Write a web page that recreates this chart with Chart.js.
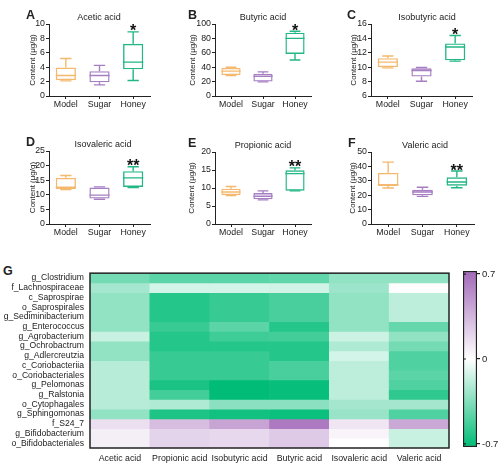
<!DOCTYPE html>
<html>
<head>
<meta charset="utf-8">
<script src="https://cdn.jsdelivr.net/npm/chart.js@4/dist/chart.umd.min.js"></script>
<style>
  body { margin: 0; width: 500px; height: 466px; background: #fff; position: relative; overflow: hidden;
         font-family: "Liberation Sans", Arial, sans-serif; color: #222; }
  canvas, .lbl { position: absolute; }
  .letter { font-weight: bold; font-size: 12.5px; line-height: 14px; }
  .title { font-size: 9px; line-height: 12px; transform: translateX(-50%); white-space: nowrap; }
</style>
</head>
<body>
<script>
"use strict";

// box plot groups
const groups = ["Model", "Sugar", "Honey"];
const groupColors = ["#F4B96E", "#A67EC2", "#22B784"];

// [min, q1, median, q3, max] for Model, Sugar, Honey
const acetic = [[2.1, 2.2, 2.85, 3.95, 5.2], [1.55, 1.9, 2.85, 3.45, 4.25], [2.15, 3.7, 4.7, 7.25, 8.9]];
const butyric = [[28.5, 29, 34.5, 39, 40], [19.6, 20, 27.5, 31, 33.5], [50, 58.5, 80, 88, 90]];
const isobutyric = [[9.9, 10, 10.7, 11.25, 11.55], [8.05, 8.7, 9.55, 9.85, 9.95], [10.85, 10.95, 12.8, 13.3, 14.4]];
const isovaleric = [[11.8, 12.0, 12.6, 15.8, 16.6], [8.5, 8.7, 9.9, 12.5, 12.7], [12.5, 12.7, 15.8, 18.1, 19.6]];
const propionic = [[7.9, 8.0, 8.9, 9.8, 10.4], [6.7, 6.85, 7.7, 8.6, 9.2], [9.2, 9.25, 14.0, 14.9, 15.6]];
const valeric = [[25, 26.4, 27.3, 35.6, 43], [19.2, 19.9, 22.2, 23.8, 25.5], [25.2, 26.6, 29.2, 32.4, 36.8]];

// heatmap
const acids = ["Acetic acid", "Propionic acid", "Isobutyric acid", "Butyric acid", "Isovaleric acid", "Valeric acid"];
const taxa = ["g_Clostridium", "f_Lachnospiraceae", "c_Saprospirae", "o_Saprospirales", "g_Sediminibacterium",
  "g_Enterococcus", "g_Agrobacterium", "g_Ochrobactrum", "g_Adlercreutzia", "c_Coriobacteriia",
  "o_Coriobacteriales", "g_Pelomonas", "g_Ralstonia", "o_Cytophagales", "g_Sphingomonas", "f_S24_7",
  "g_Bifidobacterium", "o_Bifidobacteriales"];
const corrAcetic = [-0.38, -0.25, -0.3, -0.3, -0.3, -0.3, -0.15, -0.3, -0.3, -0.2, -0.2, -0.2, -0.2, -0.2, -0.3, 0.15, 0.08, 0.08];
const corrPropionic = [-0.45, -0.12, -0.6, -0.6, -0.6, -0.55, -0.6, -0.6, -0.55, -0.55, -0.55, -0.63, -0.52, -0.22, -0.62, 0.3, 0.2, 0.2];
const corrIsobutyric = [-0.45, -0.12, -0.55, -0.55, -0.55, -0.45, -0.53, -0.6, -0.55, -0.55, -0.55, -0.7, -0.7, -0.32, -0.65, 0.42, 0.18, 0.18];
const corrButyric = [-0.43, -0.13, -0.5, -0.5, -0.5, -0.6, -0.52, -0.6, -0.6, -0.5, -0.5, -0.68, -0.68, -0.32, -0.67, 0.62, 0.25, 0.25];
const corrIsovaleric = [-0.3, -0.27, -0.3, -0.3, -0.3, -0.3, -0.14, -0.22, -0.12, -0.18, -0.18, -0.18, -0.18, -0.25, -0.28, 0.12, 0.05, 0.0];
const corrValeric = [-0.3, 0.01, -0.18, -0.18, -0.18, -0.42, -0.3, -0.38, -0.48, -0.48, -0.45, -0.48, -0.57, -0.25, -0.48, 0.4, -0.15, -0.15];
const colorTicks = [-0.7, 0, 0.7];

const corrColumns = [corrAcetic, corrPropionic, corrIsobutyric, corrButyric, corrIsovaleric, corrValeric];

Chart.defaults.font.family = '"Liberation Sans", Arial, sans-serif';
Chart.defaults.color = "#222";
Chart.defaults.animation = false;

function addCanvas(left, top, w, h) {
  const cv = document.createElement("canvas");
  cv.width = w;
  cv.height = h;
  cv.style.left = left + "px";
  cv.style.top = top + "px";
  document.body.appendChild(cv);
  return cv;
}

function addText(cls, text, left, top) {
  const d = document.createElement("div");
  d.className = "lbl " + cls;
  d.textContent = text;
  d.style.left = left + "px";
  d.style.top = top + "px";
  document.body.appendChild(d);
}

// whiskers, medians and the star mark, drawn with the chart's own y scale
function whiskerPlugin(stats, mark) {
  return {
    id: "whiskers",
    afterDatasetsDraw(chart) {
      const y = chart.scales.y;
      const ctx = chart.ctx;
      const bars = chart.getDatasetMeta(0).data;
      ctx.save();
      ctx.lineWidth = 1.4;
      bars.forEach((bar, i) => {
        const s = stats[i];
        const half = bar.width / 2;
        const cap = bar.width * 0.28;
        ctx.strokeStyle = groupColors[i];
        ctx.beginPath();
        ctx.moveTo(bar.x - half, y.getPixelForValue(s[2]));
        ctx.lineTo(bar.x + half, y.getPixelForValue(s[2]));
        ctx.moveTo(bar.x, y.getPixelForValue(s[3]));
        ctx.lineTo(bar.x, y.getPixelForValue(s[4]));
        ctx.moveTo(bar.x - cap, y.getPixelForValue(s[4]));
        ctx.lineTo(bar.x + cap, y.getPixelForValue(s[4]));
        ctx.moveTo(bar.x, y.getPixelForValue(s[1]));
        ctx.lineTo(bar.x, y.getPixelForValue(s[0]));
        ctx.moveTo(bar.x - cap, y.getPixelForValue(s[0]));
        ctx.lineTo(bar.x + cap, y.getPixelForValue(s[0]));
        ctx.stroke();
      });
      const honey = bars[2];
      ctx.fillStyle = "#111";
      ctx.font = "bold 16px \"Liberation Sans\", Arial, sans-serif";
      ctx.textAlign = "center";
      ctx.fillText(mark, honey.x, y.getPixelForValue(stats[2][4]) + 4.5);
      ctx.restore();
    }
  };
}

function boxChart(p) {
  const yAxisW = 40;
  const padTop = 8;
  const left = p.axisX - yAxisW;
  const top = p.top - padTop;
  const cv = addCanvas(left, top, p.right - left + 6, p.bottom - top + 16);
  addText("letter", p.letter, p.letterX, p.top - 16);
  addText("title", p.title, p.titleX, p.top - 13);
  new Chart(cv, {
    type: "bar",
    data: {
      labels: groups,
      datasets: [{
        data: p.stats.map(s => [s[1], s[3]]),
        backgroundColor: "rgba(255,255,255,0)",
        borderColor: groupColors,
        borderWidth: 1.4,
        borderSkipped: false,
        barPercentage: 0.6,
        categoryPercentage: 1
      }]
    },
    options: {
      responsive: false,
      layout: { padding: { top: padTop, right: 6, left: 0, bottom: 0 } },
      plugins: { legend: { display: false }, tooltip: { enabled: false } },
      scales: {
        x: {
          grid: { offset: false, drawOnChartArea: false, tickLength: 3, color: "#222" },
          border: { color: "#222" },
          ticks: { padding: 0, font: { size: 8.8 } },
          afterFit: s => { s.height = 16; }
        },
        y: {
          min: p.min,
          max: p.max,
          ticks: { stepSize: p.step, padding: 1, font: { size: 8.8 } },
          grid: { drawOnChartArea: false, tickLength: 3, color: "#222" },
          border: { color: "#222" },
          title: { display: true, text: "Content (μg/g)", font: { size: 8 },
                   padding: { top: p.yTitleX - left - 4.8, bottom: 0 } },
          afterFit: s => { s.width = yAxisW; }
        }
      }
    },
    plugins: [whiskerPlugin(p.stats, p.mark)]
  });
}

boxChart({ letter: "A", letterX: 26, title: "Acetic acid", titleX: 99, stats: acetic, mark: "*",
  min: 0, max: 10, step: 2, axisX: 49, top: 24, bottom: 96, right: 150, yTitleX: 33 });
boxChart({ letter: "B", letterX: 188, title: "Butyric acid", titleX: 263, stats: butyric, mark: "*",
  min: 0, max: 100, step: 20, axisX: 215, top: 24, bottom: 96, right: 311, yTitleX: 193 });
boxChart({ letter: "C", letterX: 347, title: "Isobutyric acid", titleX: 427, stats: isobutyric, mark: "*",
  min: 6, max: 16, step: 2, axisX: 371, top: 24, bottom: 96, right: 472, yTitleX: 354 });
boxChart({ letter: "D", letterX: 26, title: "Isovaleric acid", titleX: 103, stats: isovaleric, mark: "**",
  min: 0, max: 25, step: 5, axisX: 49, top: 151, bottom: 224, right: 150, yTitleX: 33 });
boxChart({ letter: "E", letterX: 188, title: "Propionic acid", titleX: 263, stats: propionic, mark: "**",
  min: 0, max: 20, step: 5, axisX: 215, top: 152, bottom: 224, right: 311, yTitleX: 192 });
boxChart({ letter: "F", letterX: 348, title: "Valeric acid", titleX: 425, stats: valeric, mark: "**",
  min: 0, max: 50, step: 10, axisX: 371, top: 152, bottom: 224, right: 474, yTitleX: 353 });

// heatmap colours: green (negative) - white - purple (positive)
const GREEN = [0, 188, 118];
const PURPLE = [162, 104, 184];
function corrColor(v) {
  const end = v < 0 ? GREEN : PURPLE;
  const t = Math.min(Math.abs(v) / 0.7, 1);
  const c = end.map(e => Math.round(255 + (e - 255) * t));
  return `rgb(${c[0]},${c[1]},${c[2]})`;
}

const framePlugin = {
  id: "frame",
  afterDraw(chart) {
    const a = chart.chartArea;
    const ctx = chart.ctx;
    ctx.save();
    ctx.strokeStyle = "#222";
    ctx.lineWidth = 1.5;
    ctx.strokeRect(a.left, a.top, a.right - a.left, a.bottom - a.top);
    ctx.restore();
  }
};

addText("letter", "G", 3, 264);
const heatCanvas = addCanvas(0, 262, 452, 204);
new Chart(heatCanvas, {
  type: "bar",
  data: {
    labels: acids,
    datasets: taxa.map((t, r) => ({
      label: t,
      data: acids.map(() => 1),
      backgroundColor: corrColumns.map(col => corrColor(col[r])),
      barPercentage: 1,
      categoryPercentage: 1,
      borderWidth: 0
    }))
  },
  options: {
    responsive: false,
    layout: { padding: { top: 9, right: 3, left: 0, bottom: 0 } },
    plugins: { legend: { display: false }, tooltip: { enabled: false } },
    scales: {
      x: {
        stacked: true,
        grid: { display: false, drawTicks: false },
        border: { display: false },
        ticks: { padding: 5, maxRotation: 0, autoSkip: false, font: { size: 8.8 } },
        afterFit: s => { s.height = 18; }
      },
      y: {
        type: "linear",
        stacked: true,
        min: 0,
        max: taxa.length,
        reverse: true,
        afterBuildTicks: s => { s.ticks = taxa.map((t, i) => ({ value: i + 0.5 })); },
        ticks: { autoSkip: false, padding: 6, font: { size: 8.6 }, callback: (v, i) => taxa[i] },
        grid: { display: false, drawTicks: false },
        border: { display: false },
        afterFit: s => { s.width = 90; }
      }
    }
  },
  plugins: [framePlugin]
});

// colour bar
const barTickPlugin = {
  id: "barTicks",
  afterDraw(chart) {
    const a = chart.chartArea;
    const y = chart.scales.y;
    const ctx = chart.ctx;
    ctx.save();
    ctx.strokeStyle = "#222";
    ctx.lineWidth = 1.2;
    ctx.beginPath();
    colorTicks.forEach(v => {
      const py = y.getPixelForValue(v);
      ctx.moveTo(a.left, py);
      ctx.lineTo(a.left + 3, py);
    });
    ctx.stroke();
    ctx.restore();
  }
};

const scaleCanvas = addCanvas(455, 262, 45, 195);
new Chart(scaleCanvas, {
  type: "bar",
  data: {
    labels: [""],
    datasets: [{
      data: [[-0.725, 0.725]],
      backgroundColor: c => {
        const a = c.chart.chartArea;
        if (!a) return null;
        const g = c.chart.ctx.createLinearGradient(0, a.top, 0, a.bottom);
        g.addColorStop(0, corrColor(0.7));
        g.addColorStop(0.5, "#ffffff");
        g.addColorStop(1, corrColor(-0.7));
        return g;
      },
      borderColor: "#222",
      borderWidth: 1.5,
      borderSkipped: false,
      barPercentage: 1,
      categoryPercentage: 1
    }]
  },
  options: {
    responsive: false,
    layout: { padding: { top: 9, right: 0, left: 8, bottom: 10 } },
    plugins: { legend: { display: false }, tooltip: { enabled: false } },
    scales: {
      x: { display: false },
      y: {
        position: "right",
        min: -0.725,
        max: 0.725,
        afterBuildTicks: s => { s.ticks = colorTicks.map(v => ({ value: v })); },
        ticks: { padding: 2, font: { size: 9.5 }, callback: v => String(v) },
        grid: { drawOnChartArea: false, tickLength: 3, color: "#222", lineWidth: 1.2 },
        border: { display: false },
        afterFit: s => { s.width = 23; }
      }
    }
  },
  plugins: [barTickPlugin]
});
</script>
</body>
</html>
